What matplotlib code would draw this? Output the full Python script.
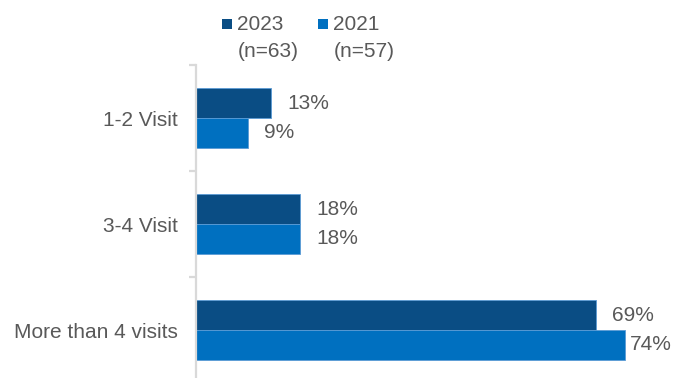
import matplotlib
matplotlib.use("Agg")
import matplotlib.pyplot as plt
from matplotlib.patches import Rectangle

# Survey data: share of respondents by number of visits
categories = ["1-2 Visit", "3-4 Visit", "More than 4 visits"]
series_names = ["2023", "2021"]
series_n = ["(n=63)", "(n=57)"]
values_2023 = [13, 18, 69]
values_2021 = [9, 18, 74]

W, H = 673, 378
DPI = 100
dark = "#0A4D84"
light = "#0070C0"
grey_text = "#595959"
axis_grey = "#D9D9D9"
fs = 15

plt.rcParams["font.family"] = ["Liberation Sans", "DejaVu Sans"]

fig = plt.figure(figsize=(W / DPI, H / DPI), dpi=DPI)
# axes area in pixels: x from 196 to 660, y from 65 to 383 (band edges)
ax = fig.add_axes([196 / W, 1 - 383 / H, (660 - 196) / W, (383 - 65) / H])

bar_h = 0.283
ypos = list(range(len(categories)))
series = [values_2023, values_2021]
colors = [dark, light]
# per-series vertical shift within a category band
shifts = [-bar_h / 2, bar_h / 2]

bar_groups = []
for vals, col, sh in zip(series, colors, shifts):
    bars = ax.barh([y + sh for y in ypos], vals, height=bar_h, color=col,
                   edgecolor="#5B9BD5", linewidth=0.6)
    bar_groups.append(bars)

ax.set_xlim(0, 80)
ax.set_ylim(2.5, -0.5)

# value labels to the right of each bar
label_offsets = [[11.5, 11.5, 11.5], [11.5, 11.5, 3.6]]
for bars, vals, offs in zip(bar_groups, series, label_offsets):
    for b, v, off in zip(bars, vals, offs):
        ax.annotate(f"{v}%", (b.get_width(), b.get_y() + b.get_height() / 2),
                    xytext=(off, 0), textcoords="offset points",
                    ha="left", va="center", fontsize=fs, color=grey_text,
                    annotation_clip=False)

# axes styling
for s in ["top", "right", "bottom"]:
    ax.spines[s].set_visible(False)
ax.spines["left"].set_color(axis_grey)
ax.spines["left"].set_linewidth(1.6)
ax.set_xticks([])
ax.set_yticks(ypos)
ax.set_yticklabels(categories, fontsize=fs, color=grey_text)
ax.tick_params(axis="y", which="major", length=0, pad=13)
ax.set_yticks([-0.5, 0.5, 1.5, 2.5], minor=True)
ax.tick_params(axis="y", which="minor", length=5, width=1.6, color=axis_grey)

# legend drawn at the top: square marker, year, sample size beneath
legend_x = [222, 318]
for name, n, col, lx in zip(series_names, series_n, colors, legend_x):
    fig.add_artist(Rectangle((lx / W, 1 - 29 / H), 10 / W, 10 / H,
                             transform=fig.transFigure, color=col, lw=0))
    fig.text((lx + 15) / W, 1 - 30 / H, name, fontsize=fs, color=grey_text,
             ha="left", va="baseline")
    fig.text((lx + 16) / W, 1 - 57 / H, n, fontsize=fs, color=grey_text,
             ha="left", va="baseline")

fig.savefig("out.png", dpi=DPI)
